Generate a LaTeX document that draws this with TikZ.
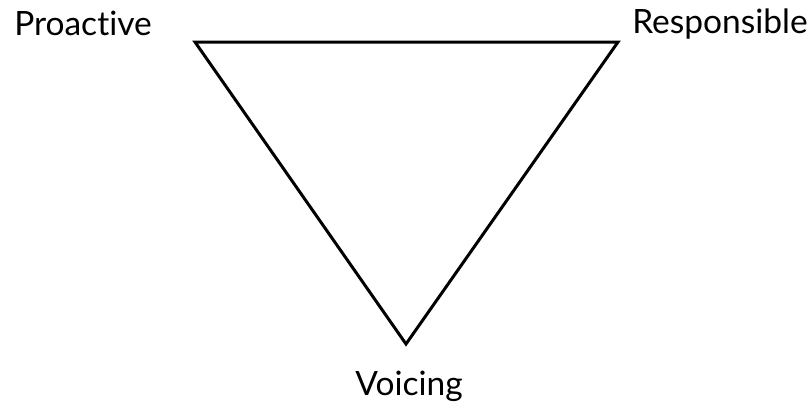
\documentclass[tikz,border=0pt]{standalone}
\usepackage{fontspec}
\setmainfont[Ligatures={NoCommon,NoRare,NoContextual}]{Lato}
\begin{document}
\begin{tikzpicture}[x=1pt,y=-1pt,
  lbl/.style={inner sep=0pt,font=\fontsize{33.5}{38}\selectfont,anchor=base},
  edge/.style={line width=3pt,line join=miter}]
\useasboundingbox (0,0) rectangle (812,407);
\coordinate (pa) at (195,42);
\coordinate (re) at (618,42);
\coordinate (vo) at (406,344);
\draw[edge] (pa) -- (re) -- (vo) -- cycle;
\node[lbl] (tp) at (83,35) {Proactive};
\node[lbl] (tr) at (720,33) {Responsible};
\node[lbl] (tv) at (409,395) {Voicing};
\end{tikzpicture}
\end{document}
